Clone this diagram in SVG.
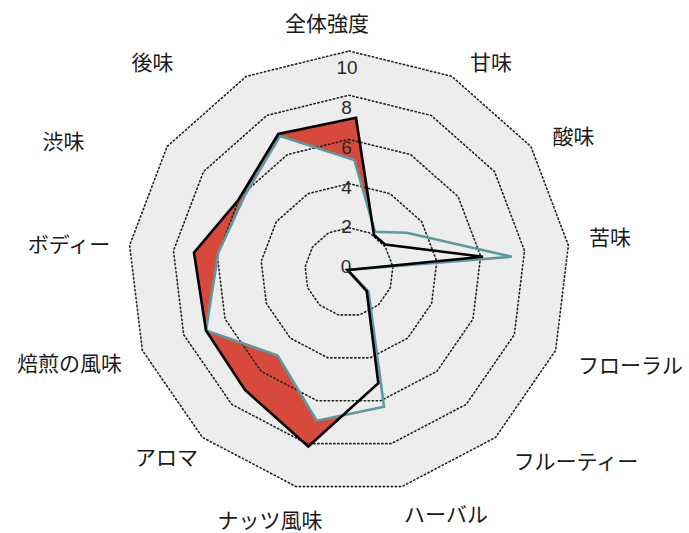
<svg xmlns="http://www.w3.org/2000/svg" width="689" height="533" viewBox="0 0 689 533">
<style>
.bg{fill:#ededed;stroke:none}
.ring{fill:none;stroke:#222;stroke-width:1.6;stroke-dasharray:1.3 2.7;stroke-linecap:round}
.ax{font-family:"Noto Sans CJK JP","Noto Sans",sans-serif;font-size:21px;fill:#1a1a1a;text-anchor:middle}
.tick{font-family:"Liberation Sans","DejaVu Sans",sans-serif;font-size:19px;fill:#2a2a2a;text-anchor:middle}
.s1fill{fill:#d6493b;stroke:none}
.s2fill{fill:#ededed;stroke:none}
.s1line{fill:none;stroke:#000;stroke-width:2.6;stroke-linejoin:miter}
.s2line{fill:none;stroke:#5b9aa0;stroke-width:2.6;stroke-linejoin:miter}
</style>
<rect width="689" height="533" fill="#fff"/>
<g id="grid-bg">
<polygon class="bg" points="349,51 451.7,76.31 530.88,146.46 568.39,245.36 555.64,350.37 495.55,437.42 401.89,486.58 296.11,486.58 202.45,437.42 142.36,350.37 129.61,245.36 167.12,146.46 246.3,76.31"/>
</g>
<g id="series-fills">
<polygon class="s1fill" points="356,117.7 374,235 385,244.5 483,256.7 347.5,270 366.7,291 378.3,383.3 308.3,446.5 245,390 206,330.5 194,252.7 238.3,200 278.3,134"/>
<polygon class="s2fill" points="354.3,160 375,231.7 406.7,232.7 511.7,256.7 347.5,270 368.5,291.5 384,406.7 316.7,420.7 277.7,355.5 206,330.5 218.3,252.7 245,195 280,136"/>
</g>
<g id="grid-rings">
<polygon class="ring" points="349,51 451.7,76.31 530.88,146.46 568.39,245.36 555.64,350.37 495.55,437.42 401.89,486.58 296.11,486.58 202.45,437.42 142.36,350.37 129.61,245.36 167.12,146.46 246.3,76.31"/>
<polygon class="ring" points="349,95.2 431.16,115.45 494.5,171.57 524.51,250.69 514.31,334.69 466.24,404.34 391.31,443.66 306.69,443.66 231.76,404.34 183.69,334.69 173.49,250.69 203.5,171.57 266.84,115.45"/>
<polygon class="ring" points="349,139.4 410.62,154.59 458.13,196.68 480.63,256.02 472.98,319.02 436.93,371.25 380.73,400.75 317.27,400.75 261.07,371.25 225.02,319.02 217.37,256.02 239.87,196.68 287.38,154.59"/>
<polygon class="ring" points="349,183.6 390.08,193.73 421.75,221.78 436.76,261.34 431.66,303.35 407.62,338.17 370.16,357.83 327.84,357.83 290.38,338.17 266.34,303.35 261.24,261.34 276.25,221.78 307.92,193.73"/>
<polygon class="ring" points="349,227.8 369.54,232.86 385.38,246.89 392.88,266.67 390.33,287.67 378.31,305.08 359.58,314.92 338.42,314.92 319.69,305.08 307.67,287.67 305.12,266.67 312.62,246.89 328.46,232.86"/>
</g>
<g id="series-lines">
<polygon id="series-2" class="s2line" points="354.3,160 375,231.7 406.7,232.7 511.7,256.7 347.5,270 368.5,291.5 384,406.7 316.7,420.7 277.7,355.5 206,330.5 218.3,252.7 245,195 280,136"/>
<polygon id="series-1" class="s1line" points="356,117.7 374,235 385,244.5 483,256.7 347.5,270 366.7,291 378.3,383.3 308.3,446.5 245,390 206,330.5 194,252.7 238.3,200 278.3,134"/>
</g>
<g id="ticks">
<text class="tick" x="347" y="74">10</text>
<text class="tick" x="346.5" y="113.5">8</text>
<text class="tick" x="346.5" y="153.5">6</text>
<text class="tick" x="346.5" y="193.5">4</text>
<text class="tick" x="346.5" y="233.3">2</text>
<text class="tick" x="346" y="273">0</text>
</g>
<g id="axis-labels">
<g id="label-0"><text class="ax" x="327" y="31">全体強度</text></g>
<g id="label-1"><text class="ax" x="491" y="70">甘味</text></g>
<g id="label-2"><text class="ax" x="573.5" y="144">酸味</text></g>
<g id="label-3"><text class="ax" x="610" y="245">苦味</text></g>
<g id="label-4"><text class="ax" x="630.5" y="373">フローラル</text></g>
<g id="label-5"><text class="ax" x="576" y="469">フルーティー</text></g>
<g id="label-6"><text class="ax" x="446" y="522">ハーバル</text></g>
<g id="label-7"><text class="ax" x="270" y="528">ナッツ風味</text></g>
<g id="label-8"><text class="ax" x="166.5" y="465">アロマ</text></g>
<g id="label-9"><text class="ax" x="69.5" y="371">焙煎の風味</text></g>
<g id="label-10"><text class="ax" x="69" y="252">ボディー</text></g>
<g id="label-11"><text class="ax" x="63.5" y="149">渋味</text></g>
<g id="label-12"><text class="ax" x="152.5" y="70">後味</text></g>
</g>
</svg>
